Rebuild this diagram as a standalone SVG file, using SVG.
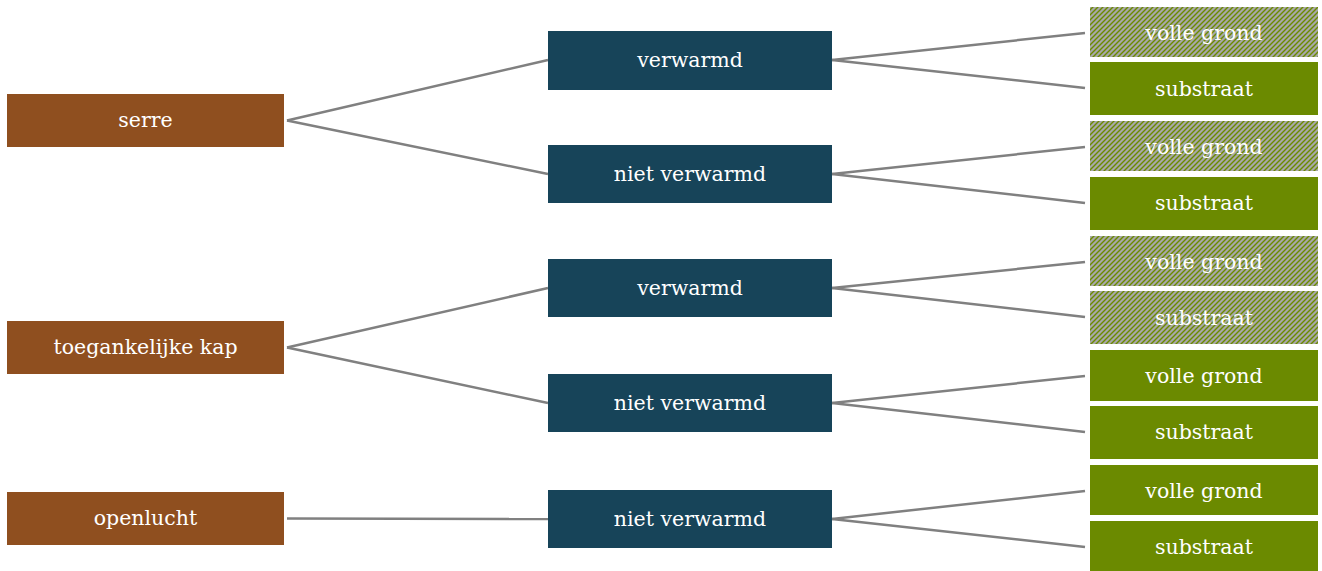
<svg xmlns="http://www.w3.org/2000/svg" width="1322" height="571" viewBox="0 0 1322 571">
<defs>
<pattern id="hatch" patternUnits="userSpaceOnUse" width="5" height="5">
<rect width="5" height="5" fill="#a8a8a8"/>
<path d="M-1,6 L6,-1 M-1,1 L1,-1 M4,6 L6,4" stroke="#6b8a00" stroke-width="1.4"/>
</pattern>
<style>
.b{fill:#8f4f1f}
.d{fill:#174459}
.g{fill:#6b8a00}
.h{fill:url(#hatch)}
text{font-family:"DejaVu Serif","Liberation Serif",serif;font-size:20.5px;fill:#ffffff;text-anchor:middle}
.c line{stroke:#808080;stroke-width:2.5}
</style>
</defs>
<rect width="1322" height="571" fill="#ffffff"/>
<g class="c" id="connectors">
<line x1="287" y1="120.5" x2="548" y2="60"/>
<line x1="287" y1="120.5" x2="548" y2="174"/>
<line x1="287" y1="347.5" x2="548" y2="288"/>
<line x1="287" y1="347.5" x2="548" y2="403"/>
<line x1="287" y1="518.5" x2="548" y2="519"/>
<line x1="832" y1="60" x2="1085" y2="33"/>
<line x1="832" y1="60" x2="1085" y2="88"/>
<line x1="832" y1="174" x2="1085" y2="147"/>
<line x1="832" y1="174" x2="1085" y2="203"/>
<line x1="832" y1="288" x2="1085" y2="262"/>
<line x1="832" y1="288" x2="1085" y2="317"/>
<line x1="832" y1="403" x2="1085" y2="376"/>
<line x1="832" y1="403" x2="1085" y2="432"/>
<line x1="832" y1="519" x2="1085" y2="491"/>
<line x1="832" y1="519" x2="1085" y2="547"/>
</g>
<g id="serre"><rect class="b" x="7" y="94" width="277" height="53"/><text x="145.5" y="127">serre</text></g>
<g id="toegankelijke-kap"><rect class="b" x="7" y="321" width="277" height="53"/><text x="145.5" y="354">toegankelijke kap</text></g>
<g id="openlucht"><rect class="b" x="7" y="492" width="277" height="53"/><text x="145.5" y="525">openlucht</text></g>
<g id="verwarmd-1"><rect class="d" x="548" y="31" width="284" height="59"/><text x="690" y="67">verwarmd</text></g>
<g id="niet-verwarmd-1"><rect class="d" x="548" y="145" width="284" height="58"/><text x="690" y="181">niet verwarmd</text></g>
<g id="verwarmd-2"><rect class="d" x="548" y="259" width="284" height="58"/><text x="690" y="295">verwarmd</text></g>
<g id="niet-verwarmd-2"><rect class="d" x="548" y="374" width="284" height="58"/><text x="690" y="410">niet verwarmd</text></g>
<g id="niet-verwarmd-3"><rect class="d" x="548" y="490" width="284" height="58"/><text x="690" y="526">niet verwarmd</text></g>
<g id="volle-grond-1"><rect class="h" x="1090" y="7" width="228" height="50"/><text x="1204" y="39.5">volle grond</text></g>
<g id="substraat-1"><rect class="g" x="1090" y="62" width="228" height="53"/><text x="1204" y="95.5">substraat</text></g>
<g id="volle-grond-2"><rect class="h" x="1090" y="121" width="228" height="50"/><text x="1204" y="153.5">volle grond</text></g>
<g id="substraat-2"><rect class="g" x="1090" y="177" width="228" height="53"/><text x="1204" y="209.5">substraat</text></g>
<g id="volle-grond-3"><rect class="h" x="1090" y="236" width="228" height="50"/><text x="1204" y="268.5">volle grond</text></g>
<g id="substraat-3"><rect class="h" x="1090" y="291" width="228" height="53"/><text x="1204" y="324.5">substraat</text></g>
<g id="volle-grond-4"><rect class="g" x="1090" y="350" width="228" height="51"/><text x="1204" y="382.5">volle grond</text></g>
<g id="substraat-4"><rect class="g" x="1090" y="406" width="228" height="53"/><text x="1204" y="438.5">substraat</text></g>
<g id="volle-grond-5"><rect class="g" x="1090" y="465" width="228" height="50"/><text x="1204" y="497.5">volle grond</text></g>
<g id="substraat-5"><rect class="g" x="1090" y="521" width="228" height="50"/><text x="1204" y="553.5">substraat</text></g>
</svg>
